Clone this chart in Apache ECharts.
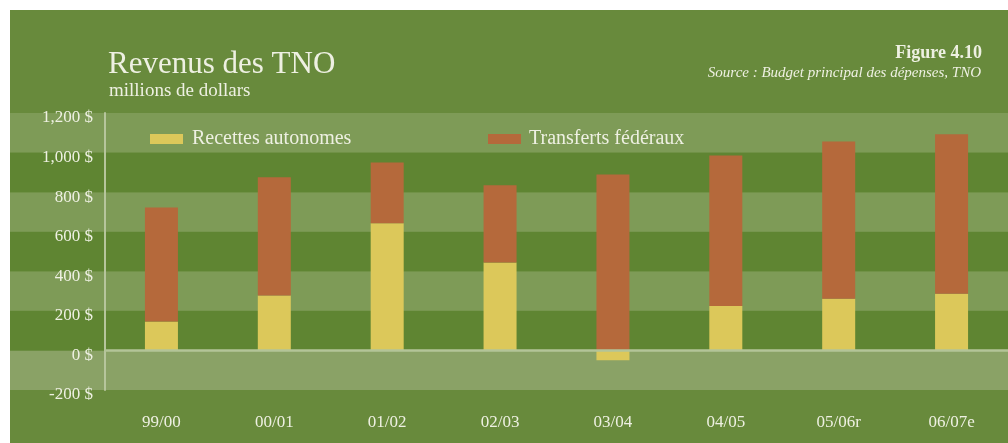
<!DOCTYPE html>
<html>
<head>
<meta charset="utf-8">
<script src="https://cdn.jsdelivr.net/npm/echarts@6/dist/echarts.min.js"></script>
<style>
  html, body { margin: 0; padding: 0; background: #ffffff; }
  #wrap { position: relative; width: 1008px; height: 443px; background: #ffffff; }
  #bg { position: absolute; left: 10px; top: 10px; right: 0; bottom: 0; background: #688a3c; }
  #chart { position: absolute; left: 0; top: 0; width: 1008px; height: 443px; }
</style>
</head>
<body>
<div id="wrap"><div id="bg"></div><div id="chart"></div></div>
<script>
// ---- data ----
const categories = ['99/00', '00/01', '01/02', '02/03', '03/04', '04/05', '05/06r', '06/07e'];
const recettesAutonomes = [146, 278, 643, 445, -50, 224, 261, 286];
const transfertsFederaux = [577, 597, 307, 390, 889, 761, 795, 807];
const yTickValues = [-200, 0, 200, 400, 600, 800, 1000, 1200];
const yTickLabels = ['-200 $', '0 $', '200 $', '400 $', '600 $', '800 $', '1,000 $', '1,200 $'];
const seriesNames = ['Recettes autonomes', 'Transferts fédéraux'];

const font = '"Liberation Serif", "DejaVu Serif", serif';
const txt = '#eef0e2';
const chart = echarts.init(document.getElementById('chart'), null, { renderer: 'canvas' });

const option = {
  backgroundColor: 'transparent',
  animation: false,
  title: [
    { text: 'Revenus des TNO', left: 103, top: 44,
      textStyle: { fontFamily: font, fontSize: 31, fontWeight: 'normal', color: txt } },
    { text: 'millions de dollars', left: 104, top: 77,
      textStyle: { fontFamily: font, fontSize: 19, fontWeight: 'normal', color: txt } },
    { text: 'Figure 4.10', right: 21, top: 39,
      textStyle: { fontFamily: font, fontSize: 18, fontWeight: 'bold', color: txt } },
    { text: 'Source : Budget principal des dépenses, TNO', right: 22, top: 61,
      textStyle: { fontFamily: font, fontSize: 15, fontStyle: 'italic', fontWeight: 'normal', color: txt } }
  ],
  legend: [
    { data: [seriesNames[0]], left: 145, top: 124, itemWidth: 33, itemHeight: 10, icon: 'rect',
      textStyle: { fontFamily: font, fontSize: 20, color: txt, padding: [0, 0, 0, 4] } },
    { data: [seriesNames[1]], left: 483, top: 124, itemWidth: 33, itemHeight: 10, icon: 'rect',
      textStyle: { fontFamily: font, fontSize: 20, color: txt, padding: [0, 0, 0, 3] } }
  ],
  grid: [
    { left: 10, right: 0, top: 113, bottom: 53 },
    { left: 105, right: 0, top: 113, bottom: 53 }
  ],
  xAxis: [
    { gridIndex: 0, type: 'value', show: false, min: 0, max: 1 },
    { gridIndex: 1, type: 'category', data: categories,
      axisLine: { show: false }, axisTick: { show: false }, splitLine: { show: false },
      axisLabel: { margin: 24, fontFamily: font, fontSize: 17, color: txt } }
  ],
  yAxis: [
    { gridIndex: 0, type: 'value', min: -200, max: 1200, interval: 200,
      axisLine: { show: false }, axisTick: { show: false }, axisLabel: { show: false },
      splitLine: { show: false },
      splitArea: { show: true, areaStyle: { color: ['#8aa266', '#5f8532', '#7e9b57', '#5f8532', '#7e9b57', '#5f8532', '#7e9b57'] } } },
    { gridIndex: 1, type: 'value', min: -200, max: 1200, interval: 200,
      axisLine: { show: true, lineStyle: { color: '#b6c59c', width: 2 } },
      axisTick: { show: false }, splitLine: { show: false },
      axisLabel: { margin: 12, fontFamily: font, fontSize: 17, color: txt,
        verticalAlign: 'top', lineHeight: 10,
        formatter: function (v) { const i = yTickValues.indexOf(v); return i >= 0 ? yTickLabels[i] : ''; } } }
  ],
  series: [
    { name: seriesNames[0], type: 'bar', stack: 'total', xAxisIndex: 1, yAxisIndex: 1,
      barWidth: 33, itemStyle: { color: '#dcc85a' }, data: recettesAutonomes },
    { name: seriesNames[1], type: 'bar', stack: 'total', xAxisIndex: 1, yAxisIndex: 1,
      barWidth: 33, itemStyle: { color: '#b5693b' }, data: transfertsFederaux,
      markLine: { silent: true, symbol: 'none', label: { show: false },
        lineStyle: { color: '#b3c498', width: 2.5, type: 'solid' }, data: [{ yAxis: 0 }] } }
  ]
};
chart.setOption(option);
</script>
</body>
</html>
